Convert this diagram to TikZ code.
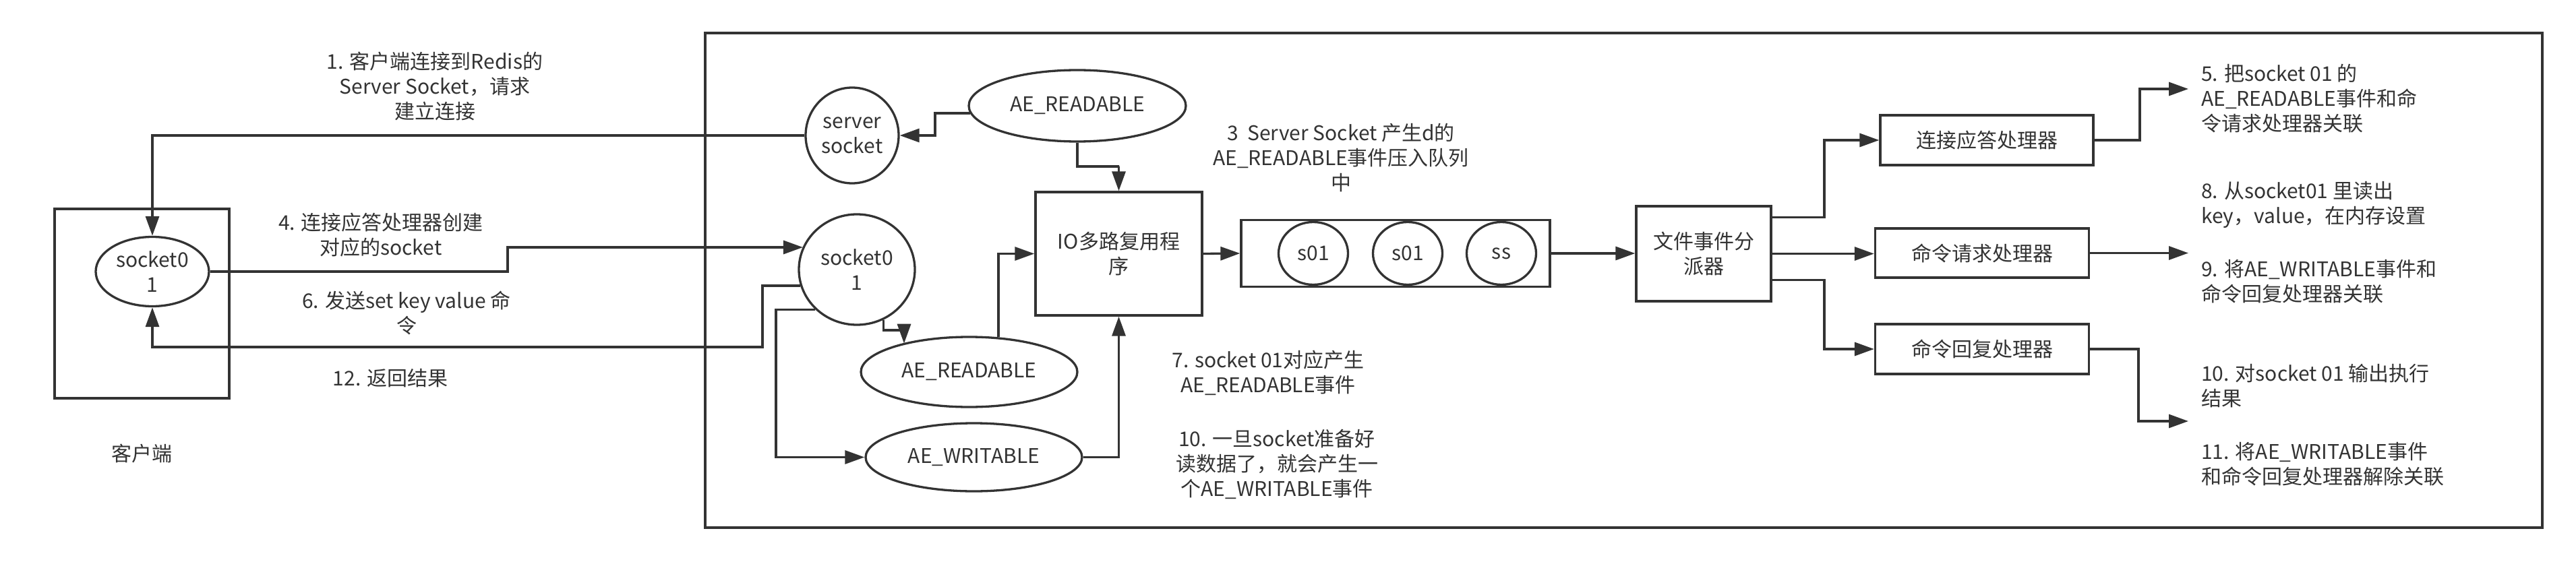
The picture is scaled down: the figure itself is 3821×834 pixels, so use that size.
\documentclass[tikz,border=0pt]{standalone}
\usepackage{fontspec}
\setmainfont{Noto Sans CJK SC}
\usetikzlibrary{arrows.meta,shapes.geometric,calc}
\definecolor{ink}{HTML}{333333}
\newcommand{\fs}{\fontsize{30}{37}\selectfont}
\begin{document}
\begin{tikzpicture}[x=1pt,y=-1pt,
  every node/.style={text=ink, font=\fs},
  box/.style={draw=ink, line width=3.3pt, rectangle, inner sep=0pt, align=center},
  oval/.style={draw=ink, line width=3.3pt, ellipse, inner sep=0pt, align=center},
  lbl/.style={inner sep=0pt, align=center},
  rlbl/.style={inner sep=0pt, align=left, anchor=west},
  arr/.style={draw=ink, line width=3.3pt, -{Triangle[length=29pt,width=20pt]}},
  ln/.style={draw=ink, line width=3.3pt}]
\path[fill=white,use as bounding box] (0,0) rectangle (3821,834);

% containers
\node[box, minimum width=259pt, minimum height=281pt] (cbox) at (210.5,450.5) {};
\node[box, minimum width=2725pt, minimum height=734pt] (sbox) at (2408.5,416) {};
\node[lbl] (clabel) at (210,673) {客户端};

% client socket
\node[oval, minimum width=168pt, minimum height=103pt] (csock) at (226,403) {socket0\\1};

% server side nodes
\node[oval, minimum width=138pt, minimum height=142pt] (ssock) at (1264,201) {server\\socket};
\node[oval, minimum width=322pt, minimum height=106pt] (aer1) at (1598,157) {AE\_READABLE};
\node[oval, minimum width=172pt, minimum height=164pt] (ssock01) at (1271,400) {socket0\\1};
\node[oval, minimum width=321pt, minimum height=104pt] (aer2) at (1437.5,552) {AE\_READABLE};
\node[oval, minimum width=321pt, minimum height=101pt] (aew) at (1444.5,678.5) {AE\_WRITABLE};
\node[box, minimum width=247pt, minimum height=183pt] (io) at (1659.5,376.5) {IO多路复用程\\序};
\node[box, minimum width=458pt, minimum height=99pt] (queue) at (2070,376) {};
\node[oval, minimum width=103pt, minimum height=93pt] (q1) at (1948,376) {s01};
\node[oval, minimum width=103pt, minimum height=93pt] (q2) at (2088,376) {s01};
\node[oval, minimum width=103pt, minimum height=93pt] (q3) at (2227,376) {ss};
\node[box, minimum width=200pt, minimum height=141pt] (disp) at (2527,376.5) {文件事件分\\派器};
\node[box, minimum width=316pt, minimum height=74pt] (h1) at (2947,208) {连接应答处理器};
\node[box, minimum width=317pt, minimum height=73pt] (h2) at (2940,375.5) {命令请求处理器};
\node[box, minimum width=317pt, minimum height=74pt] (h3) at (2940,518) {命令回复处理器};

% labels
\node[lbl] (t1) at (645,128) {1. 客户端连接到Redis的\\Server Socket，请求\\建立连接};
\node[lbl] (t4) at (565,348.5) {4. 连接应答处理器创建\\对应的socket};
\node[lbl] (t6) at (603,464.5) {6. 发送set key value 命\\令};
\node[lbl] (t12) at (579,561) {12. 返回结果};
\node[lbl] (t3) at (1989,234) {3\ \ Server Socket 产生d的\\AE\_READABLE事件压入队列\\中};
\node[lbl] (t7) at (1881,553.5) {7. socket 01对应产生\\AE\_READABLE事件};
\node[lbl] (t10) at (1894,689) {10. 一旦socket准备好\\读数据了，就会产生一\\个AE\_WRITABLE事件};
\node[rlbl] (t5) at (3265,146) {5. 把socket 01 的\\AE\_READABLE事件和命\\令请求处理器关联};
\node[rlbl] (t8) at (3265,303.5) {8. 从socket01 里读出\\key，value，在内存设置};
\node[rlbl] (t9) at (3265,417.5) {9. 将AE\_WRITABLE事件和\\命令回复处理器关联};
\node[rlbl] (t10b) at (3265,573) {10. 对socket 01 输出执行\\结果};
\node[rlbl] (t11) at (3265,688.5) {11. 将AE\_WRITABLE事件\\和命令回复处理器解除关联};

% helper coordinates
\coordinate (j4) at (753,367);
\coordinate (j3) at (1131,515);
\coordinate (j7) at (1151,458);
\coordinate (j5) at (1341,490);
\coordinate (j8) at (1387,168);
\coordinate (j9) at (1660,247);
\coordinate (j12) at (2706,300);
\coordinate (d1) at ($(disp.north east)+(0,18)$);
\coordinate (d3) at ($(disp.south east)+(0,-33)$);
\coordinate (k5) at (3174,132);
\coordinate (e5) at (3246,132);
\coordinate (e9) at (3246,376);
\coordinate (k10) at (3172,625);
\coordinate (e10) at (3246,625);

% connectors
\draw[arr] (ssock.west) -| (csock.north);
\draw[arr] (csock.east) -| (j4) -- (j4 -| ssock01.157);
\draw[arr] (ssock01.196) -- (ssock01.196 -| j3) -- (j3) -| (csock.south);
\draw[arr] (ssock01.224) -- (ssock01.224 -| j7) |- (aew.west);
\draw[arr] (ssock01.298) |- (j5) -- (j5 |- aer2.157);
\draw[arr] (aer2.50) |- (io.west);
\draw[arr] (aew.east) -| (io.south);
\draw[arr] (aer1.184) -- (aer1.184 -| j8) |- (ssock.east);
\draw[arr] (aer1.south) |- (j9) -| (io.north);
\draw[arr] (io.east) -- (queue.west);
\draw[arr] (queue.east) -- (queue.east -| disp.west);
\draw[arr] (d1) -- (d1 -| j12) |- (h1.west);
\draw[arr] (disp.east) -- (disp.east -| h2.west);
\draw[arr] (d3) -- (d3 -| j12) |- (h3.west);
\draw[arr] (h1.east) -| (k5) -- (e5);
\draw[arr] (h2.east) -- (h2.east -| e9);
\draw[arr] (h3.east) -| (k10) -- (e10);
\end{tikzpicture}
\end{document}
